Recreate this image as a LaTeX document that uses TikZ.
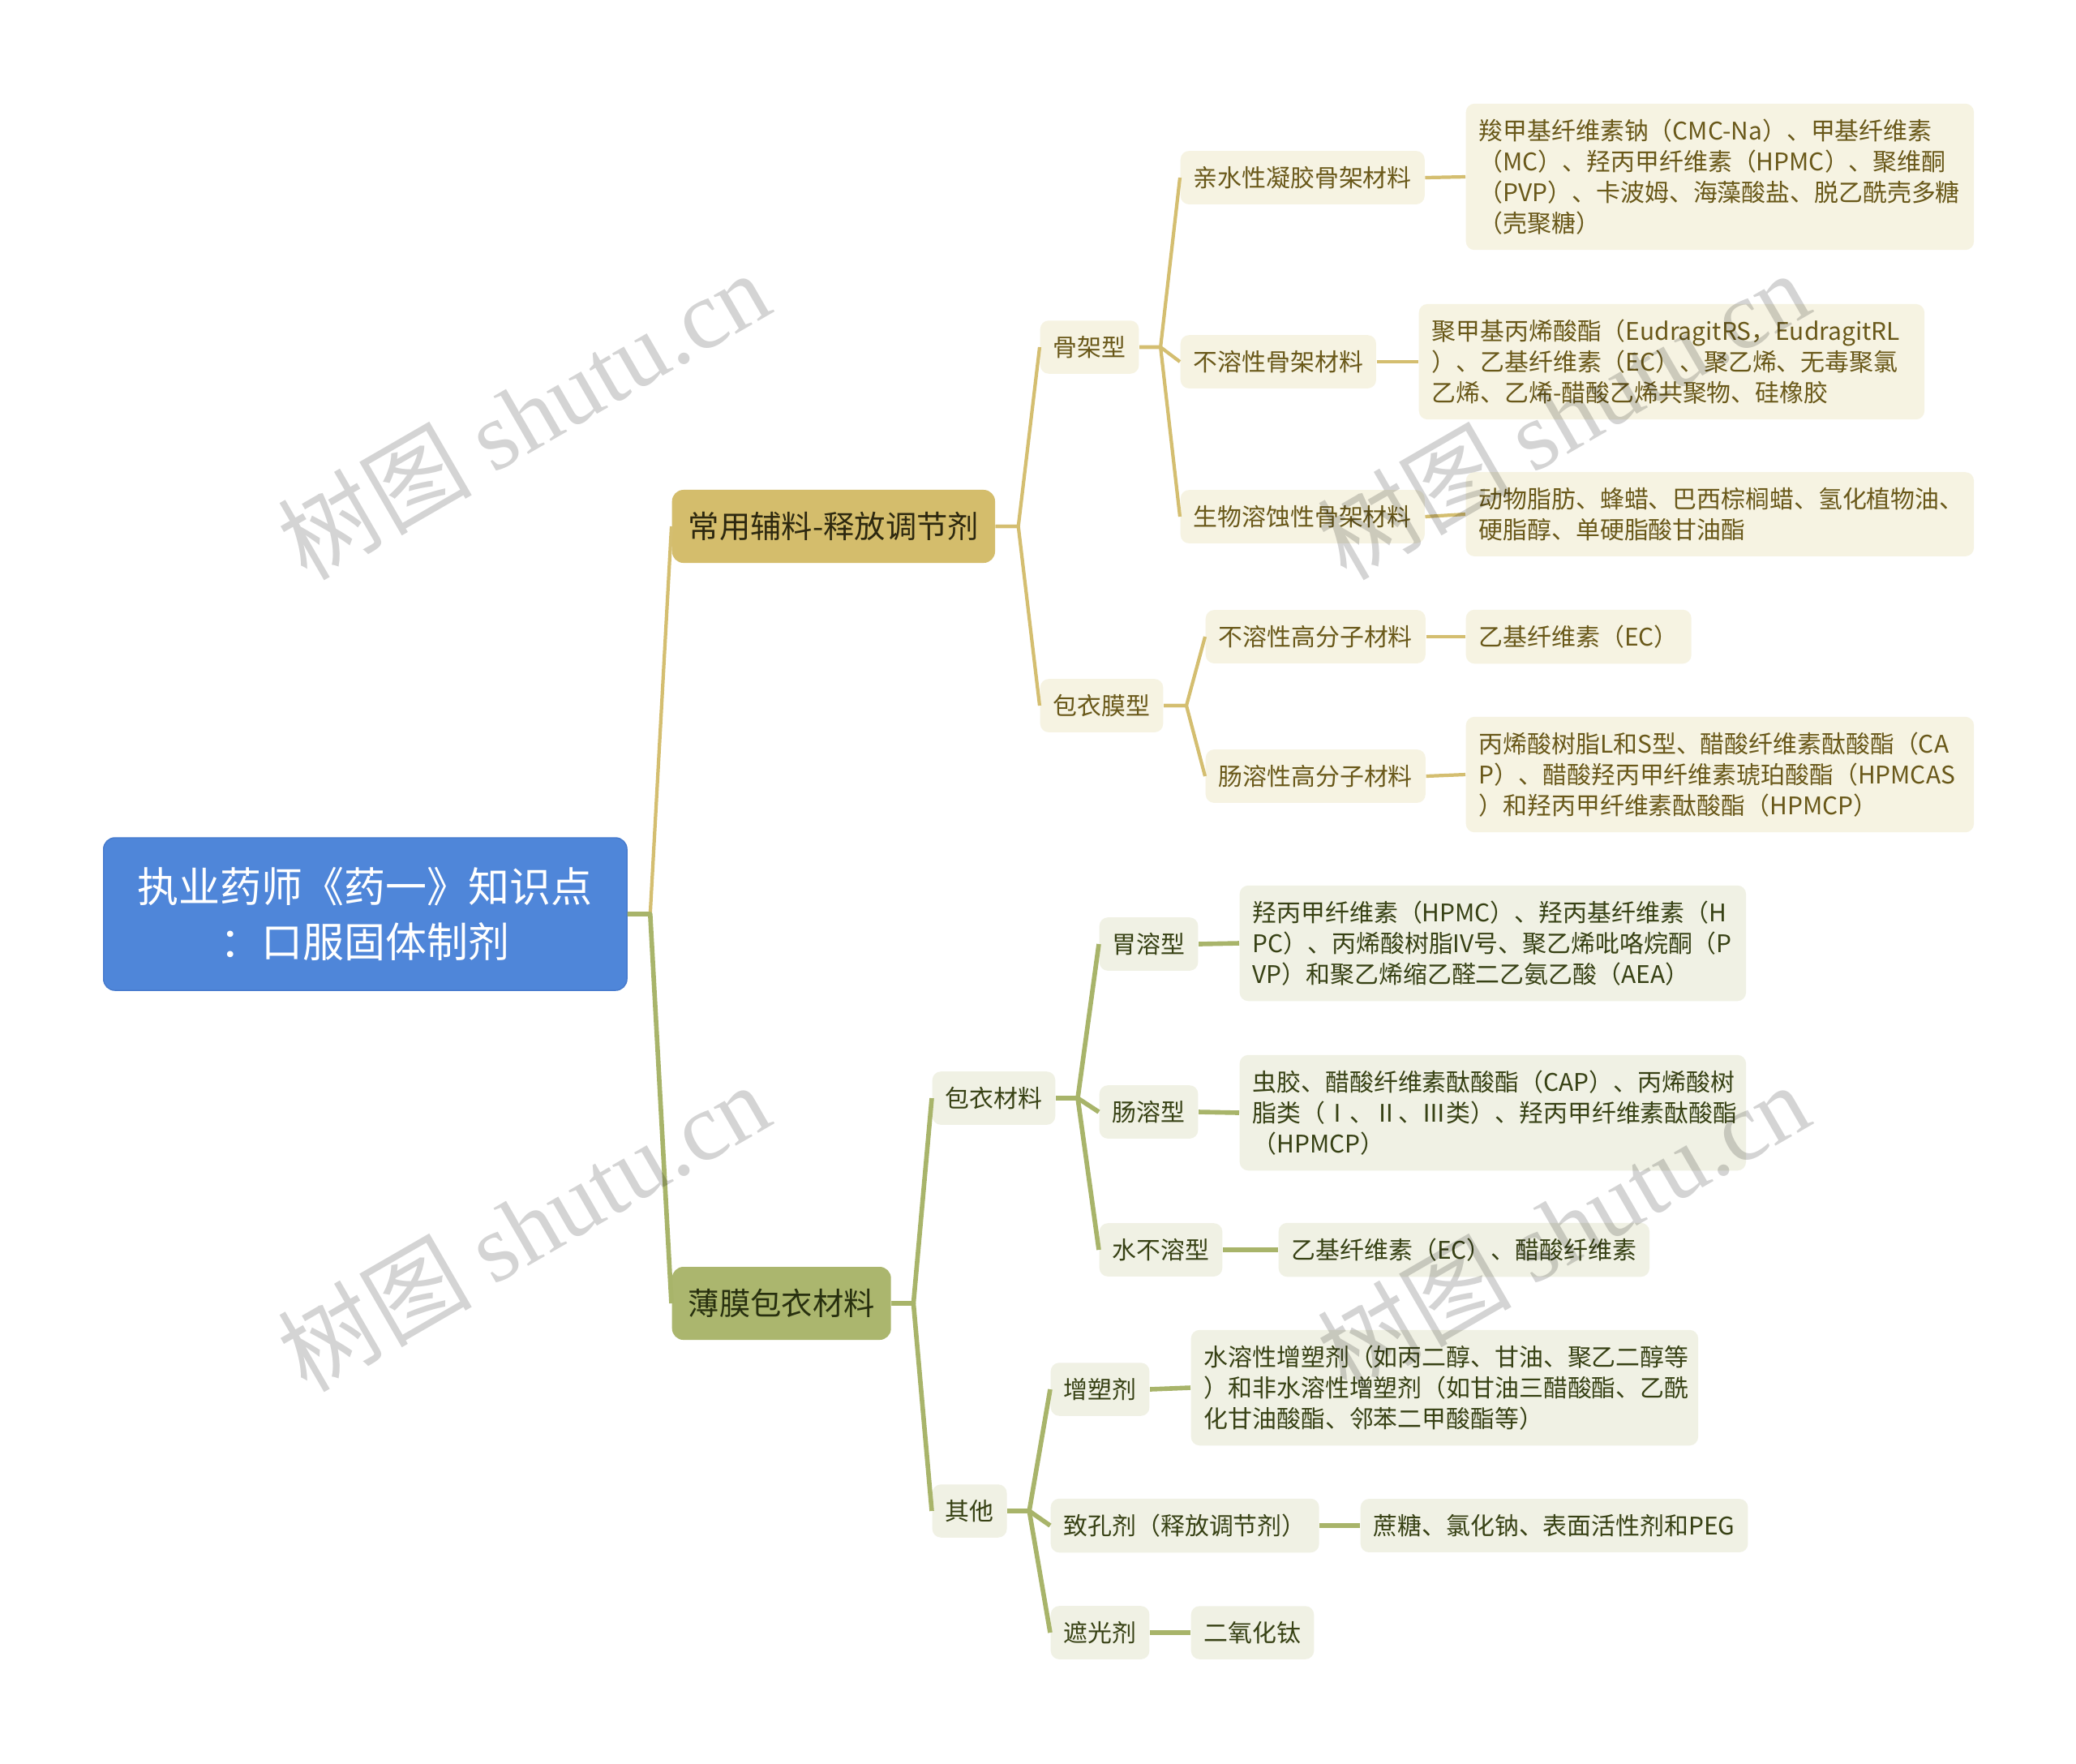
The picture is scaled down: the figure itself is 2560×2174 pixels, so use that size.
\documentclass[tikz,border=0pt]{standalone}
\usepackage{fontspec}
\setmainfont{Noto Sans CJK SC}
\newfontfamily\wmfont{Liberation Serif}
\usetikzlibrary{calc}

\begin{document}
\begin{tikzpicture}[x=0.01cm, y=-0.01cm,
    box/.style={rounded corners=3pt, anchor=west, inner xsep=0.16cm, inner ysep=0.19cm, minimum height=0.65cm, align=left, font=\fontsize{8.5pt}{10.8pt}\selectfont},
    goldbox/.style={box, fill=creamgold, text=txtgold},
    olivebox/.style={box, fill=creamolive, text=txtolive},
    goldleaf/.style={goldbox, text width=#1},
    oliveleaf/.style={olivebox, text width=#1},
    topbox/.style={rounded corners=4pt, anchor=west, inner xsep=0.2cm, minimum height=0.9cm, font=\fontsize{10.9pt}{13pt}\selectfont},
    goldline/.style={draw=linegold, line width=1.2pt, line join=round},
    oliveline/.style={draw=lineolive, line width=1.6pt, line join=round},
    wmark/.style={text=black, text opacity=0.17, font=\fontsize{34pt}{34pt}\selectfont, rotate=30}]
    \definecolor{rootblue}{RGB}{79,134,217}
    \definecolor{rootedge}{RGB}{70,122,205}
    \definecolor{topgold}{RGB}{212,189,108}
    \definecolor{topolive}{RGB}{171,182,110}
    \definecolor{creamgold}{RGB}{246,243,226}
    \definecolor{creamolive}{RGB}{240,241,228}
    \definecolor{linegold}{RGB}{212,190,112}
    \definecolor{lineolive}{RGB}{168,180,106}
    \definecolor{txtgold}{RGB}{105,88,25}
    \definecolor{txtolive}{RGB}{55,65,20}

    \path[use as bounding box, fill=white] (0,0) rectangle (2560,2174);

    % centre topic
    \node[draw=rootedge, fill=rootblue, text=white, rounded corners=4pt, anchor=west, minimum width=6.45cm, minimum height=1.88cm, align=center, font=\fontsize{14.5pt}{19.5pt}\selectfont] (root) at (127,1127) {执业药师《药一》知识点\\：口服固体制剂};

    % main branches
    \node[topbox, fill=topgold, text={rgb,255:red,45;green,40;blue,15}] (release) at (828,649) {常用辅料-释放调节剂};
    \node[topbox, fill=topolive, text={rgb,255:red,40;green,48;blue,15}] (film) at (828,1607) {薄膜包衣材料};

    % release branch
    \node[goldbox] (matrix) at (1282,428) {骨架型};
    \node[goldbox] (membrane) at (1282,870) {包衣膜型};
    \node[goldbox] (hydro) at (1455,219) {亲水性凝胶骨架材料};
    \node[goldbox] (insol) at (1455,446) {不溶性骨架材料};
    \node[goldbox] (erode) at (1455,637) {生物溶蚀性骨架材料};
    \node[goldbox] (insolpoly) at (1486,785) {不溶性高分子材料};
    \node[goldbox] (entpoly) at (1486,957) {肠溶性高分子材料};
    \node[goldleaf=5.94cm] (hydroA) at (1807,218) {羧甲基纤维素钠（CMC-Na）、甲基纤维素\\（MC）、羟丙甲纤维素（HPMC）、聚维酮\\（PVP）、卡波姆、海藻酸盐、脱乙酰壳多糖\\（壳聚糖）};
    \node[goldleaf=5.91cm] (insolA) at (1749,446) {聚甲基丙烯酸酯（EudragitRS，EudragitRL\\）、乙基纤维素（EC）、聚乙烯、无毒聚氯\\乙烯、乙烯-醋酸乙烯共聚物、硅橡胶};
    \node[goldleaf=5.94cm] (erodeA) at (1807,634) {动物脂肪、蜂蜡、巴西棕榈蜡、氢化植物油、\\硬脂醇、单硬脂酸甘油酯};
    \node[goldbox] (insolpolyA) at (1807,785) {乙基纤维素（EC）};
    \node[goldleaf=5.94cm] (entpolyA) at (1807,955) {丙烯酸树脂L和S型、醋酸纤维素酞酸酯（CA\\P）、醋酸羟丙甲纤维素琥珀酸酯（HPMCAS\\）和羟丙甲纤维素酞酸酯（HPMCP）};

    % film branch
    \node[olivebox] (coat) at (1149,1354) {包衣材料};
    \node[olivebox] (other) at (1149,1863) {其他};
    \node[olivebox] (gastric) at (1355,1164) {胃溶型};
    \node[olivebox] (enteric) at (1355,1371) {肠溶型};
    \node[olivebox] (waterins) at (1355,1541) {水不溶型};
    \node[olivebox] (plast) at (1295,1713) {增塑剂};
    \node[olivebox] (pore) at (1295,1881) {致孔剂（释放调节剂）};
    \node[olivebox] (opaque) at (1295,2013) {遮光剂};
    \node[oliveleaf=5.92cm] (gastricA) at (1528,1163) {羟丙甲纤维素（HPMC）、羟丙基纤维素（H\\PC）、丙烯酸树脂IV号、聚乙烯吡咯烷酮（P\\VP）和聚乙烯缩乙醛二乙氨乙酸（AEA）};
    \node[oliveleaf=5.92cm] (entericA) at (1528,1372) {虫胶、醋酸纤维素酞酸酯（CAP）、丙烯酸树\\脂类（Ⅰ、Ⅱ、Ⅲ类）、羟丙甲纤维素酞酸酯\\（HPMCP）};
    \node[olivebox] (waterinsA) at (1576,1541) {乙基纤维素（EC）、醋酸纤维素};
    \node[oliveleaf=5.93cm] (plastA) at (1468,1711) {水溶性增塑剂（如丙二醇、甘油、聚乙二醇等\\）和非水溶性增塑剂（如甘油三醋酸酯、乙酰\\化甘油酸酯、邻苯二甲酸酯等）};
    \node[olivebox] (poreA) at (1677,1881) {蔗糖、氯化钠、表面活性剂和PEG};
    \node[olivebox] (opaqueA) at (1468,2013) {二氧化钛};

    % connectors
    \draw[goldline] (root.east) -- ++(28,0) -- (release.west);
    \draw[oliveline] (root.east) -- ++(28,0) -- (film.west);
    \foreach \c in {matrix,membrane}
        \draw[goldline] (release.east) -- ++(28,0) -- (\c.west);
    \foreach \c in {hydro,insol,erode}
        \draw[goldline] (matrix.east) -- ++(26,0) -- (\c.west);
    \foreach \c in {insolpoly,entpoly}
        \draw[goldline] (membrane.east) -- ++(28,0) -- (\c.west);
    \foreach \a/\b in {hydro/hydroA,insol/insolA,erode/erodeA,insolpoly/insolpolyA,entpoly/entpolyA}
        \draw[goldline] (\a.east) -- (\b.west);
    \foreach \c in {coat,other}
        \draw[oliveline] (film.east) -- ++(27,0) -- (\c.west);
    \foreach \c in {gastric,enteric,waterins}
        \draw[oliveline] (coat.east) -- ++(27,0) -- (\c.west);
    \foreach \c in {plast,pore,opaque}
        \draw[oliveline] (other.east) -- ++(27,0) -- (\c.west);
    \foreach \a/\b in {gastric/gastricA,enteric/entericA,waterins/waterinsA,plast/plastA,pore/poreA,opaque/opaqueA}
        \draw[oliveline] (\a.east) -- (\b.west);

    % watermarks
    \node[wmark] (wm1) at (645,511) {树图 {\wmfont shutu.cn}};
    \node[wmark] (wm2) at (645,1512) {树图 {\wmfont shutu.cn}};
    \node[wmark] (wm3) at (1927,511) {树图 {\wmfont shutu.cn}};
    \node[wmark] (wm4) at (1927,1512) {树图 {\wmfont shutu.cn}};
\end{tikzpicture}
\end{document}
